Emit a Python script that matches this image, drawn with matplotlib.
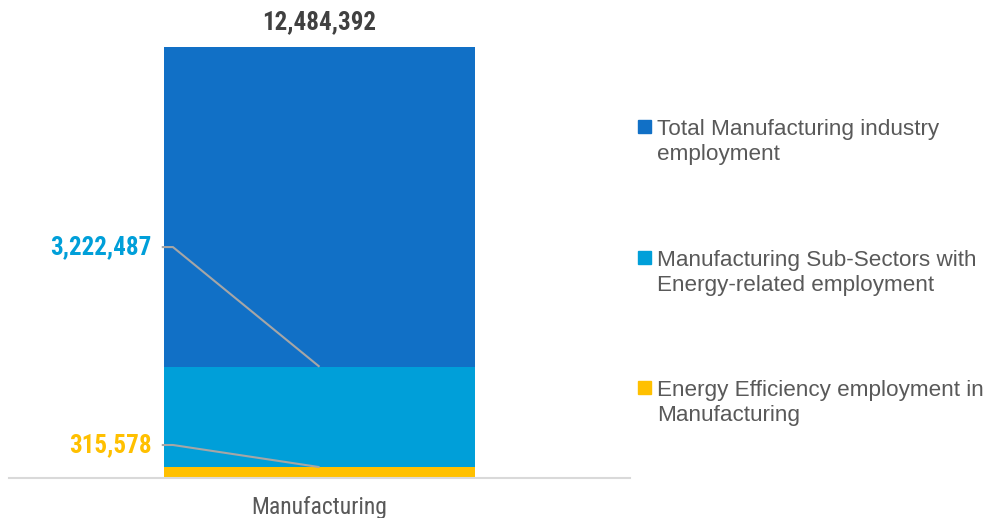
import matplotlib
matplotlib.use("Agg")
import matplotlib.pyplot as plt
from matplotlib.patches import Rectangle
from matplotlib import font_manager

category = "Manufacturing"
series_names = [
    "Total Manufacturing industry\nemployment",
    "Manufacturing Sub-Sectors with\nEnergy-related employment",
    "Energy Efficiency employment in\nManufacturing",
]
values = [12484392, 3222487, 315578]
colors = ["#1170C6", "#009FD9", "#FFC000"]
label_colors = ["#404040", "#009FD9", "#FFC000"]

avail = {f.name for f in font_manager.fontManager.ttflist}
narrow = [f for f in ["Liberation Sans Narrow", "Roboto Condensed", "Liberation Sans"] if f in avail] + ["DejaVu Sans"]
regular = [f for f in ["Liberation Sans", "Roboto"] if f in avail] + ["DejaVu Sans"]

W, H = 987, 518
fig = plt.figure(figsize=(W / 100, H / 100), dpi=100)
ax = fig.add_axes([9 / W, (H - 478) / H, 621 / W, 466 / H])
ax.set_xlim(-0.5, 0.5)
ax.set_ylim(0, 13.5e6)

for v, c in zip(values, colors):
    ax.bar(0, v, width=0.5, color=c, zorder=2)

for s in ["top", "left", "right"]:
    ax.spines[s].set_visible(False)
ax.spines["bottom"].set_color("#D9D9D9")
ax.spines["bottom"].set_linewidth(1.5)
ax.set_yticks([])
ax.set_xticks([0])
ax.set_xticklabels([category], family=narrow, fontsize=17, color="#595959")
ax.tick_params(axis="x", length=0, pad=13)

# top total label
ax.annotate(f"{values[0]:,}", xy=(0, values[0]), xytext=(0, 18), textcoords="offset points",
            ha="center", va="center", fontsize=18, fontweight="bold", family=narrow,
            color=label_colors[0])

# leader-line labels for the two inner series
label_pos = [None, (-0.27, 6.69e6), (-0.27, 0.956e6)]
for i in (1, 2):
    lx, ly = label_pos[i]
    ax.text(lx, ly, f"{values[i]:,}", ha="right", va="center", fontsize=18,
            fontweight="bold", family=narrow, color=label_colors[i])
    ax.plot([lx + 0.016, lx + 0.034, 0], [ly, ly, values[i]], color="#A6A6A6",
            lw=1.5, zorder=3, solid_capstyle="butt")

# legend (drawn manually, marker aligned with first line)
leg_y = [126, 257, 387]
line_gap = 26
for name, c, yc in zip(series_names, colors, leg_y):
    fig.add_artist(Rectangle((638 / W, 1 - (yc + 6.5) / H), 13 / W, 13 / H,
                             transform=fig.transFigure, color=c))
    n_extra = name.count("\n")
    fig.text(657 / W, 1 - (yc + 8 + line_gap * n_extra) / H, name, ha="left", va="baseline",
             fontsize=16.2, family=regular, color="#595959", linespacing=1.27)

fig.savefig("out.png", dpi=100)
